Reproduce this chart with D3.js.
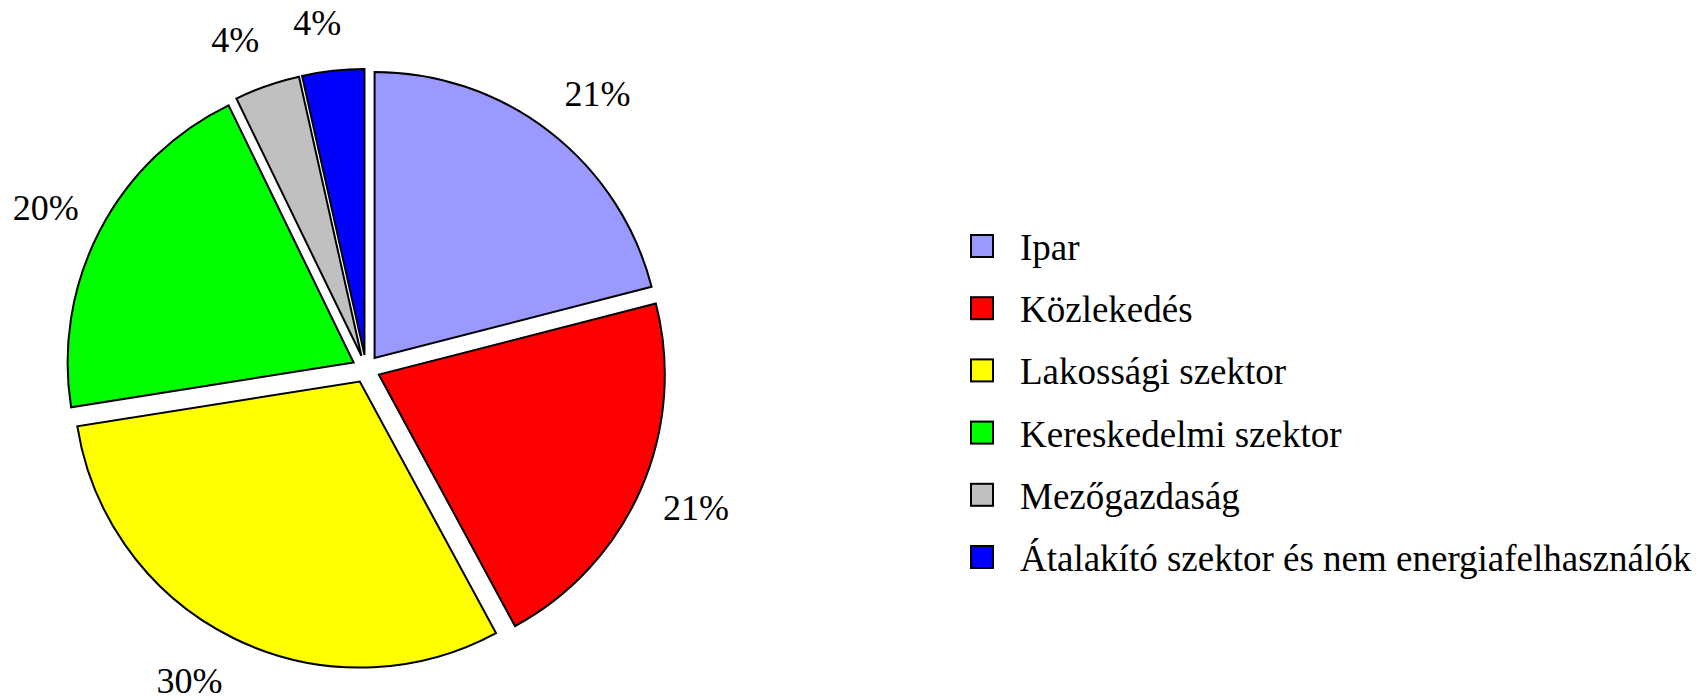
<!DOCTYPE html>
<html>
<head>
<meta charset="utf-8">
<script src="https://cdn.jsdelivr.net/npm/d3@7"></script>
<style>
  body { margin: 0; background: #fff; }
  svg { display: block; }
</style>
</head>
<body>
<div id="chart"></div>
<script>
// categories and shares (%)
var categories = ["Ipar", "Közlekedés", "Lakossági szektor", "Kereskedelmi szektor", "Mezőgazdaság", "Átalakító szektor és nem energiafelhasználók"];
var shares = [21.0, 21.1, 30.4, 20.3, 3.7, 3.5];
var colors = ["#9999FF", "#FF0000", "#FFFF00", "#00FF00", "#C0C0C0", "#0000FF"];

var width = 1705, height = 700;
var cx = 366, cy = 369, radius = 286, explode = 14, labelR = 324;
var font = "'Liberation Serif', 'Times New Roman', serif";

var svg = d3.select("#chart").append("svg")
    .attr("width", width)
    .attr("height", height);

var data = categories.map(function(c, i) { return {name: c, value: shares[i], color: colors[i]}; });
var total = d3.sum(shares);

var pie = d3.pie()
    .sort(null)
    .value(d => d.value);

var arc = d3.arc()
    .innerRadius(0)
    .outerRadius(radius);

var arcs = pie(data);

function mid(d) { return (d.startAngle + d.endAngle) / 2; }

var g = svg.append("g")
    .attr("transform", "translate(" + cx + "," + cy + ")");

// exploded slices
g.selectAll("path")
    .data(arcs)
    .enter()
    .append("path")
    .attr("d", arc)
    .attr("transform", function(d) {
        var a = mid(d);
        return "translate(" + (Math.sin(a) * explode) + "," + (-Math.cos(a) * explode) + ")";
    })
    .attr("fill", d => d.data.color)
    .attr("stroke", "#000")
    .attr("stroke-width", 2)
    .attr("stroke-linejoin", "miter");

// percentage labels: anchor on a circle, box pushed outward from it
var labels = g.selectAll("text")
    .data(arcs)
    .enter()
    .append("text")
    .attr("text-anchor", "middle")
    .attr("dominant-baseline", "central")
    .attr("font-family", font)
    .attr("font-size", 36)
    .attr("fill", "#000")
    .text(d => d3.format(".0f")(d.data.value / total * 100) + "%");

labels.each(function(d) {
    var a = mid(d), w = this.getComputedTextLength();
    var ux = Math.sin(a), uy = -Math.cos(a);
    var fx = Math.max(-1, Math.min(1, ux * 5));
    d3.select(this)
        .attr("x", ux * labelR + fx * w / 2)
        .attr("y", uy * (labelR + 24));
});

// legend
var legend = svg.append("g")
    .attr("transform", "translate(971,248)");

var rowH = 62.2;

var rows = legend.selectAll("g")
    .data(data)
    .enter()
    .append("g")
    .attr("transform", (d, i) => "translate(0," + (i * rowH) + ")");

rows.append("rect")
    .attr("x", 0)
    .attr("y", -13)
    .attr("width", 22)
    .attr("height", 22)
    .attr("fill", d => d.color)
    .attr("stroke", "#000")
    .attr("stroke-width", 2);

rows.append("text")
    .attr("x", 49)
    .attr("y", 12)
    .attr("font-family", font)
    .attr("font-size", 37)
    .attr("fill", "#000")
    .text(d => d.name);
</script>
</body>
</html>
